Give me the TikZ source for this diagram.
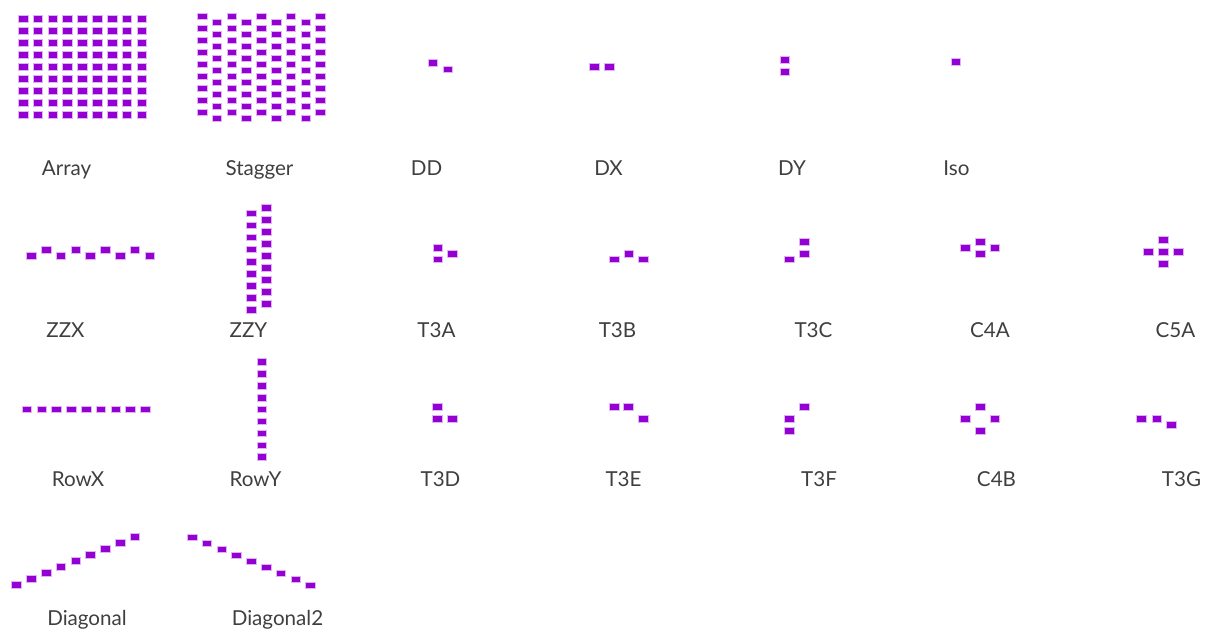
\documentclass[tikz,border=0pt]{standalone}
\usepackage{fontspec}
\setmainfont{Lato}
\usepackage{xcolor}
\usepackage{tikz}

\definecolor{pixviolet}{HTML}{9400D3}
\definecolor{labelgray}{HTML}{3F3F3F}

\begin{document}
\begin{tikzpicture}[x=1pt, y=-1pt,
    cell/.style={draw=pixviolet!30, line width=1pt, fill=pixviolet, inner sep=0pt,
                 minimum width=9.6pt, minimum height=6.6pt},
    lbl/.style={anchor=base, text=labelgray, font=\fontsize{20.6}{24}\selectfont}]
        \useasboundingbox (0,0) rectangle (1207,630);

        % Array
        \foreach \i in {0,...,8}
            \foreach \j in {0,...,8}
                \node[cell] (arr-\i-\j) at (23.2+14.85*\i, 18.7+12*\j) {};
        \node[lbl] (arr-lbl) at (66.5,175.5) {Array};

        % Stagger
        \foreach \i in {0,...,8} {
            \pgfmathsetmacro\off{mod(\i,2)*6.3}
            \foreach \j in {0,...,8}
                \node[cell] (stg-\i-\j) at (202.3+14.8*\i, 16.3+\off+12*\j) {};
        }
        \node[lbl] (stg-lbl) at (259.5,175.5) {Stagger};

        % DD, DX, DY, Iso
        \node[cell] (dd-1) at (433,63) {};
        \node[cell] (dd-2) at (447.9,69.5) {};
        \node[lbl] (dd-lbl) at (426.5,175.5) {DD};
        \node[cell] (dx-1) at (594.6,67) {};
        \node[cell] (dx-2) at (609.2,67) {};
        \node[lbl] (dx-lbl) at (608.5,175.5) {DX};
        \node[cell] (dy-1) at (785,60) {};
        \node[cell] (dy-2) at (785,72) {};
        \node[lbl] (dy-lbl) at (792,175.5) {DY};
        \node[cell] (iso-1) at (956,62) {};
        \node[lbl] (iso-lbl) at (956.5,175.5) {Iso};

        % ZZX
        \foreach \i in {0,...,8} {
            \pgfmathsetmacro\off{mod(\i,2)*6.3}
            \node[cell] (zzx-\i) at (31.5+14.8*\i, 256-\off) {};
        }
        \node[lbl] (zzx-lbl) at (65.5,337.5) {ZZX};

        % ZZY
        \foreach \j in {0,...,8} {
            \node[cell] (zzy-l\j) at (251.7, 213.3+12.1*\j) {};
            \node[cell] (zzy-r\j) at (266.7, 207.7+12*\j) {};
        }
        \node[lbl] (zzy-lbl) at (248.5,337.5) {ZZY};

        % T3A, T3B, T3C, C4A, C5A
        \node[cell] (t3a-1) at (437.8,247.7) {};
        \node[cell] (t3a-2) at (437.8,259.5) {};
        \node[cell] (t3a-3) at (452.4,253.7) {};
        \node[lbl] (t3a-lbl) at (436.5,337.5) {T3A};
        \node[cell] (t3b-1) at (614.5,259.5) {};
        \node[cell] (t3b-2) at (629,253.7) {};
        \node[cell] (t3b-3) at (643.6,259.5) {};
        \node[lbl] (t3b-lbl) at (617.5,337.5) {T3B};
        \node[cell] (t3c-1) at (804.5,241.7) {};
        \node[cell] (t3c-2) at (804.5,253.7) {};
        \node[cell] (t3c-3) at (789.7,259.5) {};
        \node[lbl] (t3c-lbl) at (813.5,337.5) {T3C};
        \node[cell] (c4a-1) at (965.4,247.7) {};
        \node[cell] (c4a-2) at (980.5,241.7) {};
        \node[cell] (c4a-3) at (980.5,253.7) {};
        \node[cell] (c4a-4) at (995,247.7) {};
        \node[lbl] (c4a-lbl) at (990,337.5) {C4A};
        \node[cell] (c5a-1) at (1163.4,239.7) {};
        \node[cell] (c5a-2) at (1148.6,252) {};
        \node[cell] (c5a-3) at (1163.4,252) {};
        \node[cell] (c5a-4) at (1178.3,252) {};
        \node[cell] (c5a-5) at (1163.4,263.7) {};
        \node[lbl] (c5a-lbl) at (1175.5,337.5) {C5A};

        % RowX, RowY
        \foreach \i in {0,...,8} {
            \node[cell] (rowx-\i) at (27+14.8*\i, 409.3) {};
            \node[cell] (rowy-\i) at (262, 362+11.9*\i) {};
        }
        \node[lbl] (rowx-lbl) at (78,486.5) {RowX};
        \node[lbl] (rowy-lbl) at (255.5,486.5) {RowY};

        % T3D, T3E, T3F, C4B, T3G
        \node[cell] (t3d-1) at (437.5,407) {};
        \node[cell] (t3d-2) at (437.5,419) {};
        \node[cell] (t3d-3) at (452.2,419) {};
        \node[lbl] (t3d-lbl) at (440.5,486.5) {T3D};
        \node[cell] (t3e-1) at (614.5,407) {};
        \node[cell] (t3e-2) at (628.5,407) {};
        \node[cell] (t3e-3) at (643.6,419) {};
        \node[lbl] (t3e-lbl) at (623.5,486.5) {T3E};
        \node[cell] (t3f-1) at (804.5,407) {};
        \node[cell] (t3f-2) at (789.7,419) {};
        \node[cell] (t3f-3) at (789.7,431) {};
        \node[lbl] (t3f-lbl) at (819,486.5) {T3F};
        \node[cell] (c4b-1) at (980.5,407) {};
        \node[cell] (c4b-2) at (965.4,419) {};
        \node[cell] (c4b-3) at (995,419) {};
        \node[cell] (c4b-4) at (980.5,431) {};
        \node[lbl] (c4b-lbl) at (996.5,486.5) {C4B};
        \node[cell] (t3g-1) at (1141.6,419) {};
        \node[cell] (t3g-2) at (1156.9,419) {};
        \node[cell] (t3g-3) at (1171.2,425) {};
        \node[lbl] (t3g-lbl) at (1181.5,486.5) {T3G};

        % Diagonal, Diagonal2
        \foreach \i in {0,...,8} {
            \node[cell] (diag-\i) at (16.7+14.8*\i, 585-6*\i) {};
            \node[cell] (diagb-\i) at (192.3+14.8*\i, 537.3+6*\i) {};
        }
        \node[lbl] (diag-lbl) at (87,625.5) {Diagonal};
        \node[lbl] (diagb-lbl) at (277.5,625.5) {Diagonal2};
\end{tikzpicture}
\end{document}
